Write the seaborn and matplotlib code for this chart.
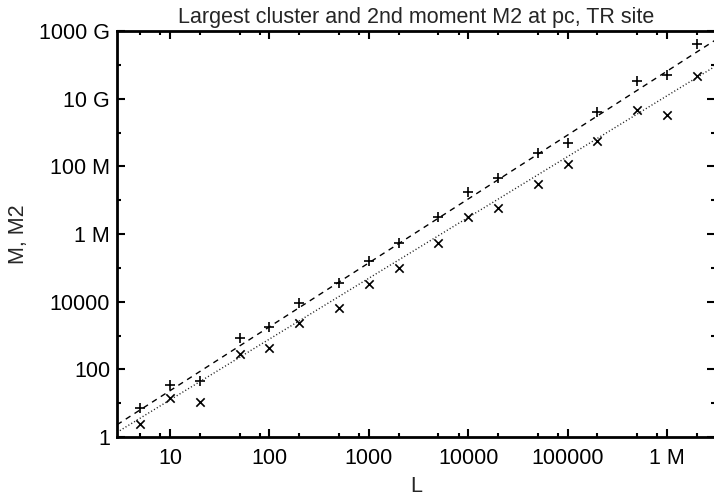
import numpy as np
import pandas as pd
import matplotlib
matplotlib.use("Agg")
import matplotlib.pyplot as plt
import matplotlib.ticker as mticker
import seaborn as sns

# ---- data ----
L_values = [5, 10, 20, 50, 100, 200, 500, 1000, 2000, 5000, 1e4, 2e4, 5e4,
            1e5, 2e5, 5e5, 1e6, 2e6]
M2_values = [7.0, 35, 46, 824, 1815, 8900, 36000, 1.61e5, 5.3e5, 3.1e6,
             1.7e7, 4.4e7, 2.4e8, 4.8e8, 4.1e9, 3.4e10, 4.9e10, 4.1e11]
M_values = [2.5, 14, 11, 283, 435, 2290, 6300, 3.3e4, 9.6e4, 5.5e5,
            3.1e6, 5.7e6, 3.0e7, 1.14e8, 5.5e8, 4.6e9, 3.4e9, 4.6e10]
# power-law fits  y = amp * L**expo
M2_fit_amp, M2_fit_expo = 0.304, 1.888
M_fit_amp, M_fit_expo = 0.200, 1.797

x_major = [10, 100, 1000, 10000, 100000, 1e6]
x_major_labels = ["10", "100", "1000", "10000", "100000", "1 M"]
y_major = [1, 100, 1e4, 1e6, 1e8, 1e10, 1e12]
y_major_labels = ["1", "100", "10000", "1 M", "100 M", "10 G", "1000 G"]

title = "Largest cluster and 2nd moment M2 at pc, TR site"
xlabel = "L"
ylabel = "M, M2"

sns.set_style("ticks")
plt.rcParams['font.family'] = ['Liberation Sans', 'DejaVu Sans']

fig = plt.figure(figsize=(7.14, 5.0), dpi=100)
ax = fig.add_axes([117/714, 63/500, 598/714, 406/500])

xmin, xmax = 2.92, 3.05e6
ax.set_xscale("log")
ax.set_yscale("log")

df = pd.DataFrame({"L": L_values, "M2": M2_values, "M": M_values})

xx = np.geomspace(xmin, xmax, 50)
fit = pd.DataFrame({"L": xx,
                    "M2fit": M2_fit_amp * xx ** M2_fit_expo,
                    "Mfit": M_fit_amp * xx ** M_fit_expo})

sns.lineplot(data=fit, x="L", y="M2fit", ax=ax, color="black", lw=1.0,
             linestyle=(0, (4, 3.5)))
sns.lineplot(data=fit, x="L", y="Mfit", ax=ax, color="#222222", lw=1.0,
             linestyle=(0, (0.8, 1.6)))
sns.scatterplot(data=df, x="L", y="M2", ax=ax, marker="+", color="black",
                s=45, linewidth=1.2)
sns.scatterplot(data=df, x="L", y="M", ax=ax, marker="x", color="black",
                s=36, linewidth=1.2)

ax.set_xlim(xmin, xmax)
ax.set_ylim(1, 1e12)

ax.xaxis.set_major_locator(mticker.FixedLocator(x_major))
ax.xaxis.set_major_formatter(mticker.FixedFormatter(x_major_labels))
ax.xaxis.set_minor_locator(mticker.LogLocator(base=10, subs=[2, 5, 8], numticks=20))
ax.xaxis.set_minor_formatter(mticker.NullFormatter())
ax.yaxis.set_major_locator(mticker.FixedLocator(y_major))
ax.yaxis.set_major_formatter(mticker.FixedFormatter(y_major_labels))
ax.yaxis.set_minor_locator(mticker.FixedLocator([10, 1e3, 1e5, 1e7, 1e9, 1e11]))
ax.yaxis.set_minor_formatter(mticker.NullFormatter())

fs = 15.5
ax.tick_params(which="both", direction="in", top=True, right=True,
               color="black", labelsize=fs, labelcolor="black")
ax.tick_params(which="major", length=6, width=1.5)
ax.tick_params(axis="x", which="major", pad=8)
ax.tick_params(axis="y", which="major", pad=5)
ax.tick_params(which="minor", length=3, width=1.5)

for s in ax.spines.values():
    s.set_visible(True)
    s.set_linewidth(2.0)
    s.set_color("black")

ax.set_xlabel(xlabel, fontsize=fs, labelpad=5)
ax.set_ylabel(ylabel, fontsize=fs, labelpad=7)
ax.set_title(title, fontsize=fs, pad=6)

fig.savefig("out.png", dpi=100)
